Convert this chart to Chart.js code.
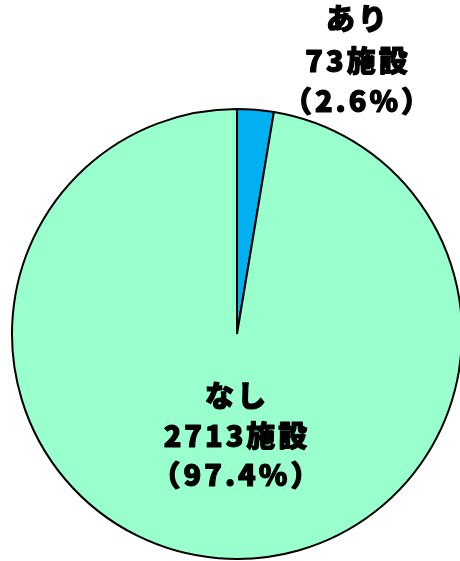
<!DOCTYPE html>
<html>
<head>
<meta charset="utf-8">
<script src="https://cdn.jsdelivr.net/npm/chart.js@4/dist/chart.umd.min.js"></script>
<style>
  html, body { margin: 0; padding: 0; background: #fff; overflow: hidden; }
  #wrap { width: 460px; height: 561px; overflow: hidden; position: relative; }
  #pie { position: absolute; left: 0; top: 0; }
</style>
</head>
<body>
<div id="wrap"><canvas id="pie" width="480" height="561"></canvas></div>
<script>
const categories = ["あり", "なし"];
const counts = [73, 2713];
const percents = ["2.6%", "97.4%"];
const colors = ["#00B0F0", "#99FFCC"];

// label block offsets from pie centre (px)
const labelOffsets = [
  { dx: 121, dy: [-315, -273, -233] },
  { dx: 0, dy: [62, 102, 141] }
];

const labelPlugin = {
  id: "pieLabels",
  afterDatasetsDraw(chart) {
    const ctx = chart.ctx;
    const arcs = chart.getDatasetMeta(0).data;
    ctx.save();
    ctx.fillStyle = "#000";
    ctx.strokeStyle = "#000";
    ctx.lineWidth = 1.2;
    ctx.lineJoin = "round";
    ctx.font = "900 29px 'Noto Sans CJK JP'";
    ctx.letterSpacing = "3px";
    ctx.textAlign = "center";
    ctx.textBaseline = "middle";
    arcs.forEach((arc, i) => {
      const lines = [categories[i], counts[i] + "施設", "（" + percents[i] + "）"];
      lines.forEach((t, j) => {
        const x = arc.x + labelOffsets[i].dx, y = arc.y + labelOffsets[i].dy[j];
        ctx.fillText(t, x, y);
        ctx.strokeText(t, x, y);
      });
    });
    ctx.restore();
  }
};

new Chart(document.getElementById("pie"), {
  type: "pie",
  data: {
    labels: categories,
    datasets: [{
      data: counts,
      backgroundColor: colors,
      borderColor: "#000",
      borderWidth: 2
    }]
  },
  options: {
    responsive: false,
    animation: false,
    layout: { padding: { left: 11, right: 17, top: 108, bottom: 1 } },
    plugins: {
      legend: { display: false },
      tooltip: { enabled: false }
    }
  },
  plugins: [labelPlugin]
});
</script>
</body>
</html>
